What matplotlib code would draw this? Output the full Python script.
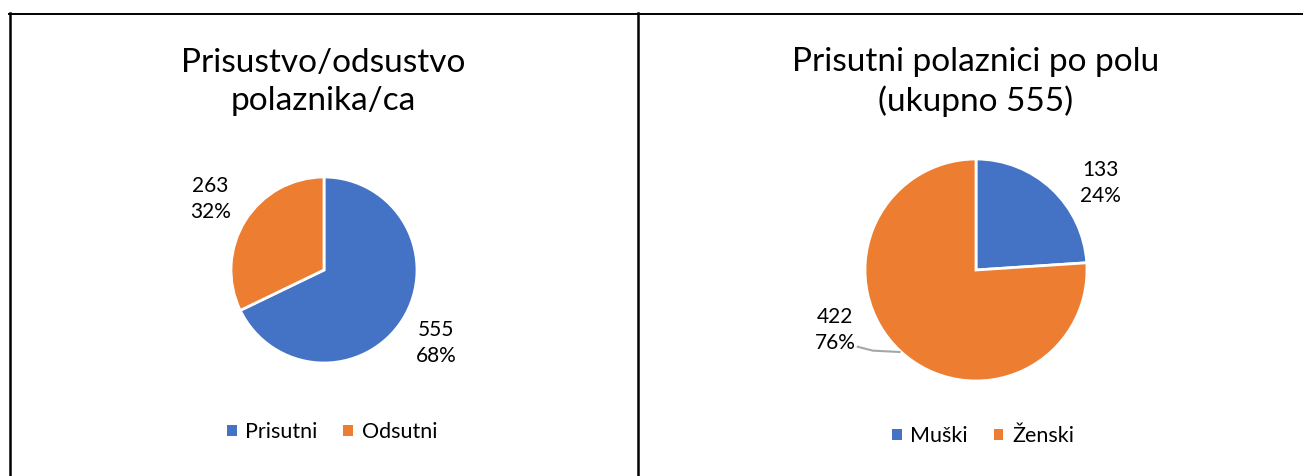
import numpy as np
import matplotlib
matplotlib.use("Agg")
import matplotlib.pyplot as plt
from matplotlib.lines import Line2D
from matplotlib.patches import Patch

# ---- data ----
left_title = "Prisustvo/odsustvo\npolaznika/ca"
left_labels = ["Prisutni", "Odsutni"]
left_values = [555, 263]
left_pcts = ["68%", "32%"]

right_title = "Prisutni polaznici po polu\n(ukupno 555)"
right_labels = ["Muški", "Ženski"]
right_values = [133, 422]
right_pcts = ["24%", "76%"]

colors = ["#4472C4", "#ED7D31"]

W, H = 1303, 476
plt.rcParams['font.family'] = ['Lato', 'DejaVu Sans']
fig = plt.figure(figsize=(W / 100, H / 100), dpi=100)

def fx(x):
    return x / W

def fy(y):
    return 1 - y / H

# panel borders
for (x0, y0, x1, y1, lw) in [(9, 13.5, 1303, 13.5, 1.4), (10, 13, 10, 476, 1.8),
                             (637.5, 13, 637.5, 476, 1.8)]:
    fig.add_artist(Line2D([fx(x0), fx(x1)], [fy(y0), fy(y1)], color="black", lw=lw,
                          transform=fig.transFigure))

def draw_pie(cx, cy, R, values, labels, pcts, title, title_x, legend_x, legend_y,
             lab_angles, lab_dist, leader=None):
    ax = fig.add_axes([fx(cx - R), fy(cy + R), 2 * R / W, 2 * R / H])
    wedges, _ = ax.pie(values, colors=colors, startangle=90, counterclock=False,
                       radius=1, wedgeprops=dict(edgecolor="white", linewidth=2))
    ax.set_xlim(-1, 1)
    ax.set_ylim(-1, 1)
    ax.set_aspect("equal")
    ax.axis("off")
    for v, p, a, d in zip(values, pcts, lab_angles, lab_dist):
        t = np.deg2rad(a)
        ax.text(d * np.cos(t), d * np.sin(t), f"{v}\n{p}", ha="center", va="center",
                fontsize=15, linespacing=1.4, clip_on=False)
    if leader is not None:
        pts = [(d * np.cos(np.deg2rad(a)), d * np.sin(np.deg2rad(a))) for a, d in leader]
        ax.plot([p[0] for p in pts], [p[1] for p in pts],
                color="#A6A6A6", lw=1.5, clip_on=False)
    fig.text(fx(title_x), fy(82), title, ha="center", va="center", fontsize=24,
             linespacing=1.35)
    handles = [Patch(facecolor=c, edgecolor="none") for c in colors]
    fig.legend(handles, labels, loc="center", bbox_to_anchor=(fx(legend_x), fy(legend_y)),
               ncol=2, frameon=False, fontsize=15.5, handlelength=0.45, handleheight=0.45,
               handletextpad=0.4, columnspacing=1.2)
    return ax

# label angles (deg) measured from pie centre, as placed in the reference
draw_pie(324, 270, 93, left_values, left_labels, left_pcts, left_title, 323, 332, 432,
         [-33, 148], [1.44, 1.44])
draw_pie(976, 270, 111, right_values, right_labels, right_pcts, right_title, 976, 983, 436,
         [35, -157], [1.37, 1.38],
         leader=[(-147, 1.27), (-142, 1.18), (-133, 1.01)])

fig.savefig("out.png", dpi=100, facecolor="white")
